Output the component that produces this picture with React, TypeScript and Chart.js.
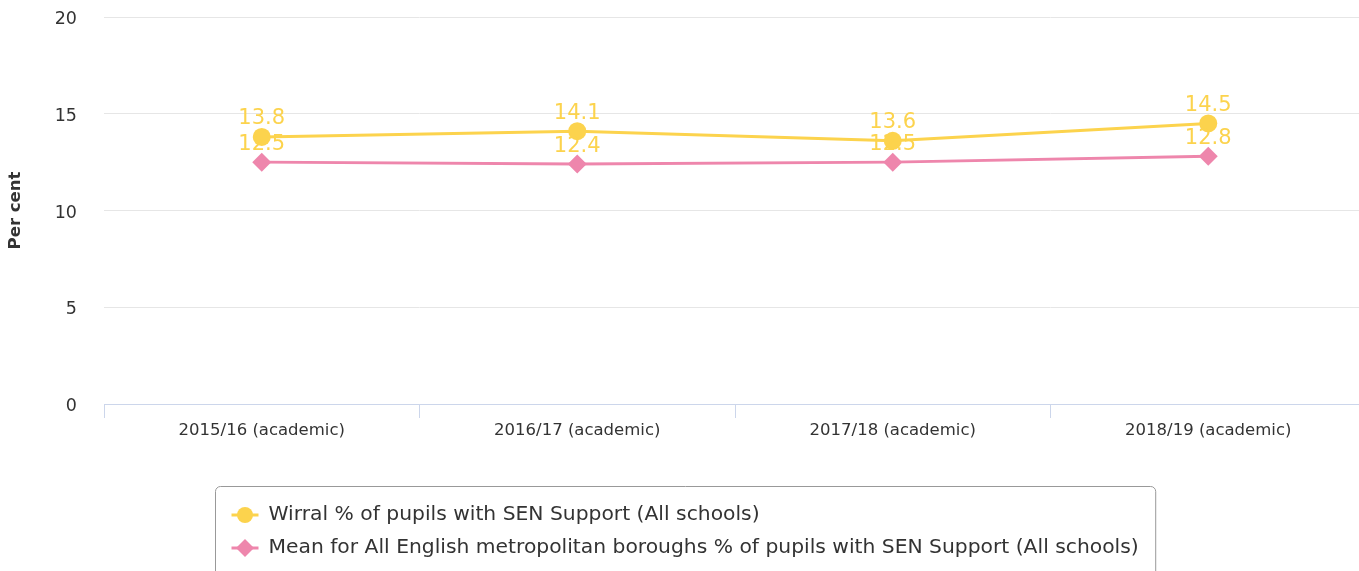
import React, { useEffect, useRef } from "react";
import { Chart, registerables } from "chart.js";

Chart.register(...registerables);

const categories = [
  "2015/16 (academic)",
  "2016/17 (academic)",
  "2017/18 (academic)",
  "2018/19 (academic)",
];
const wirralValues = [13.8, 14.1, 13.6, 14.5];
const meanValues = [12.5, 12.4, 12.5, 12.8];
const seriesLabels = [
  "Wirral % of pupils with SEN Support (All schools)",
  "Mean for All English metropolitan boroughs % of pupils with SEN Support (All schools)",
];
const yTicks = [0, 5, 10, 15, 20];
const yTitle = "Per cent";

const YELLOW = "#FCD34D";
const PINK = "#EE86AC";
const FONT = "'DejaVu Sans', Verdana, sans-serif";
const TEXT = "#333333";

const dataLabelPlugin = {
  id: "dataLabelsCustom",
  afterDatasetsDraw(chart: any) {
    const ctx = chart.ctx;
    ctx.save();
    ctx.font = `21px ${FONT}`;
    ctx.fillStyle = YELLOW;
    ctx.textAlign = "center";
    ctx.textBaseline = "middle";
    chart.data.datasets.forEach((ds: any, i: number) => {
      const meta = chart.getDatasetMeta(i);
      meta.data.forEach((pt: any, j: number) => {
        ctx.fillText(String(ds.data[j]), pt.x, pt.y - 18);
      });
    });
    ctx.restore();
  },
};

const legendBoxPlugin = {
  id: "legendBoxCustom",
  afterDraw(chart: any) {
    const ctx = chart.ctx;
    ctx.save();
    ctx.font = `20.3px ${FONT}`;
    const dsets = chart.data.datasets;
    const widths = dsets.map((ds: any) => ctx.measureText(ds.label).width);
    const textW = Math.max(...widths);
    const boxW = 16 + 37 + textW + 17;
    const cx = 685.5;
    const left = Math.round(cx - boxW / 2) + 0.5;
    const top = 486.5;
    const h = 110;
    const r = 5;
    ctx.beginPath();
    ctx.moveTo(left + r, top);
    ctx.lineTo(left + boxW - r, top);
    ctx.arcTo(left + boxW, top, left + boxW, top + r, r);
    ctx.lineTo(left + boxW, top + h);
    ctx.lineTo(left, top + h);
    ctx.lineTo(left, top + r);
    ctx.arcTo(left, top, left + r, top, r);
    ctx.closePath();
    ctx.strokeStyle = "#999999";
    ctx.lineWidth = 1;
    ctx.stroke();

    dsets.forEach((ds: any, i: number) => {
      const y = 515 + i * 33;
      const mx = left + 29.5;
      ctx.strokeStyle = ds.borderColor;
      ctx.lineWidth = 3;
      ctx.beginPath();
      ctx.moveTo(left + 16, y);
      ctx.lineTo(left + 43, y);
      ctx.stroke();
      ctx.fillStyle = ds.borderColor;
      ctx.beginPath();
      if (ds.pointStyle === "rectRot") {
        const d = 9;
        ctx.moveTo(mx, y - d);
        ctx.lineTo(mx + d, y);
        ctx.lineTo(mx, y + d);
        ctx.lineTo(mx - d, y);
        ctx.closePath();
      } else {
        ctx.arc(mx, y, 8, 0, Math.PI * 2);
      }
      ctx.fill();
      ctx.fillStyle = TEXT;
      ctx.textAlign = "left";
      ctx.textBaseline = "middle";
      ctx.fillText(ds.label, left + 53, y);
    });
    ctx.restore();
  },
};

export default function App() {
  const ref = useRef<HTMLCanvasElement | null>(null);

  useEffect(() => {
    if (!ref.current) return;
    const chart = new Chart(ref.current, {
      type: "line",
      data: {
        labels: categories,
        datasets: [
          {
            label: seriesLabels[0],
            data: wirralValues,
            borderColor: YELLOW,
            backgroundColor: YELLOW,
            borderWidth: 3,
            pointStyle: "circle",
            pointRadius: 9,
            pointHoverRadius: 9,
            pointBackgroundColor: YELLOW,
            pointBorderColor: YELLOW,
            pointBorderWidth: 0,
            tension: 0,
          },
          {
            label: seriesLabels[1],
            data: meanValues,
            borderColor: PINK,
            backgroundColor: PINK,
            borderWidth: 3,
            pointStyle: "rectRot",
            pointRadius: 9.5,
            pointHoverRadius: 9.5,
            pointBackgroundColor: PINK,
            pointBorderColor: PINK,
            pointBorderWidth: 0,
            tension: 0,
          },
        ],
      },
      options: {
        responsive: false,
        animation: false,
        devicePixelRatio: 1,
        layout: { autoPadding: false, padding: { top: 17, bottom: 121, left: 0, right: 0 } },
        plugins: {
          legend: { display: false },
          tooltip: { enabled: false },
          title: { display: false },
        },
        scales: {
          x: {
            type: "category",
            offset: true,
            grid: {
              offset: true,
              drawOnChartArea: false,
              drawTicks: true,
              tickLength: 14,
              color: "#ccd6eb",
              lineWidth: 1,
            },
            border: { display: true, color: "#ccd6eb", width: 1 },
            ticks: {
              font: { family: FONT, size: 16.5 },
              color: TEXT,
              padding: 3,
              maxRotation: 0,
              autoSkip: false,
            },
            afterFit: (s: any) => {
              s.height = 46;
            },
          },
          y: {
            min: 0,
            max: 20,
            afterBuildTicks: (s: any) => {
              s.ticks = yTicks.map((v) => ({ value: v }));
            },
            ticks: {
              font: { family: FONT, size: 17.5 },
              color: TEXT,
              padding: 27,
              labelOffset: 2.5,
            },
            grid: {
              drawTicks: false,
              color: (c: any) => (c.tick && c.tick.value === 0 ? "#ccd6eb" : "#e6e6e6"),
              lineWidth: 1,
            },
            border: { display: false },
            title: {
              display: true,
              text: yTitle,
              font: { family: FONT, size: 16.5, weight: "bold" },
              color: TEXT,
              padding: { top: 6, bottom: 0 },
            },
            afterFit: (s: any) => {
              s.width = 104;
              s.paddingTop = 11;
              s.paddingBottom = 11;
            },
          },
        },
      },
      plugins: [dataLabelPlugin, legendBoxPlugin],
    } as any);
    return () => chart.destroy();
  }, []);

  return (
    <div
      style={{
        position: "fixed",
        left: 0,
        top: 0,
        width: 1359,
        height: 571,
        overflow: "hidden",
        background: "#ffffff",
      }}
    >
      <canvas ref={ref} width={1366} height={571} style={{ width: 1366, height: 571, display: "block" }} />
    </div>
  );
}
